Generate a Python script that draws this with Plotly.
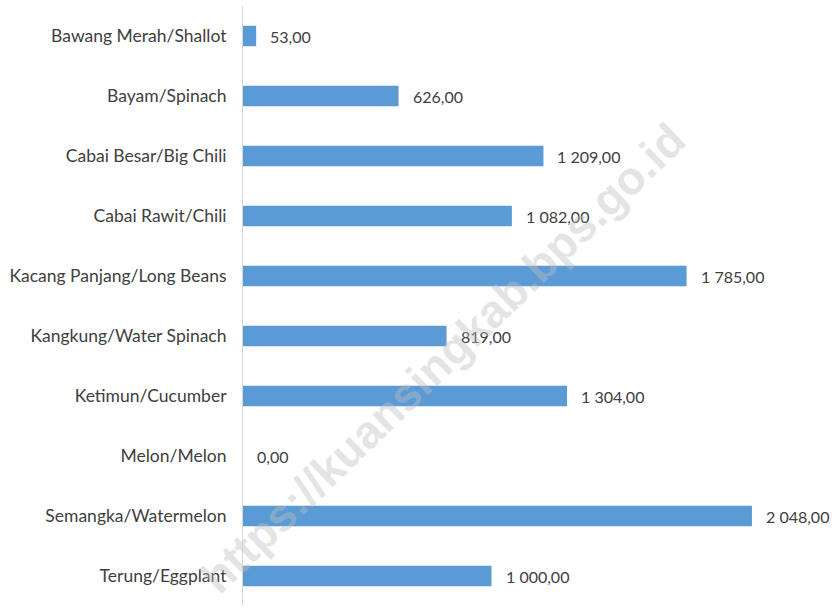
import plotly.graph_objects as go

categories = ["Bawang Merah/Shallot", "Bayam/Spinach", "Cabai Besar/Big Chili", "Cabai Rawit/Chili",
              "Kacang Panjang/Long Beans", "Kangkung/Water Spinach", "Ketimun/Cucumber", "Melon/Melon",
              "Semangka/Watermelon", "Terung/Eggplant"]
values = [53, 626, 1209, 1082, 1785, 819, 1304, 0, 2048, 1000]


def fmt(v):
    s = f"{v:,.2f}"
    return s.replace(",", " ").replace(".", ",")


labels = [fmt(v) for v in values]

fig = go.Figure(go.Bar(
    y=categories, x=values, orientation="h",
    marker=dict(color="#5B9BD5", line=dict(width=0)),
    hoverinfo="skip",
))

L, R, T, B = 243, 9, 6, 2
W, H = 836, 608

annotations = [dict(
    x=v, y=c, xref="x", yref="y", text=t, showarrow=False, xanchor="left", xshift=12,
    font=dict(family="Lato", size=16, color="#404040"),
) for c, v, t in zip(categories, values, labels)]

annotations.append(dict(
    text="https://kuansingkab.bps.go.id", xref="paper", yref="paper",
    x=(443 - L) / (W - L - R), y=1 - (358 - T) / (H - T - B),
    showarrow=False, textangle=-44,
    font=dict(family="Liberation Sans", size=46, color="rgba(190,190,190,0.42)", weight="bold"),
))

fig.update_layout(
    width=W, height=H,
    margin=dict(l=L, r=R, t=T, b=B, autoexpand=False),
    paper_bgcolor="white", plot_bgcolor="white",
    bargap=0.66,
    showlegend=False,
    font=dict(family="Lato", size=17.5, color="#404040"),
    xaxis=dict(range=[0, 2350], showgrid=False, showticklabels=False, zeroline=False,
               showline=False, fixedrange=True),
    yaxis=dict(autorange="reversed", showgrid=False, ticks="", ticklabelstandoff=12,
               showline=True, linecolor="#d9d9d9", linewidth=1, automargin=False,
               tickfont=dict(family="Lato", size=17.5, color="#404040")),
    annotations=annotations,
)

fig.write_html("out.html", config={"displayModeBar": False},
               post_script="document.body.style.margin='0';")
